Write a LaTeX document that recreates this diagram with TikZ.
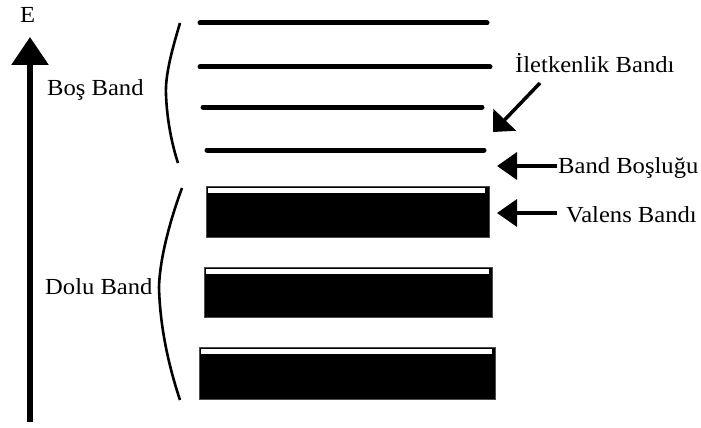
\documentclass[tikz,border=0pt]{standalone}
\usepackage{fontspec}
\setmainfont{Liberation Serif}
\usetikzlibrary{arrows.meta}
\newcommand{\lbltxt}[1]{\scalebox{1.07}[1]{#1}}
\begin{document}
\begin{tikzpicture}[x=1pt,y=-1pt,
  lbl/.style={anchor=base west,inner sep=0pt,font=\fontsize{23}{26}\selectfont},
  level/.style={line width=5pt,line cap=round},
  band/.style={fill=black,draw=black!70,line width=1pt},
  strip/.style={fill=white},
  brace/.style={line width=2.6pt},
  ptr/.style={line width=3.5pt,-{Triangle[length=20pt,width=27pt]}},
  dptr/.style={line width=3.5pt,-{Triangle[length=17pt,width=31pt]}}]
\useasboundingbox (0,0) rectangle (701,428);
% energy axis
\coordinate (axb) at (30,422);
\coordinate (axt) at (30,37);
\draw[line width=6pt,-{Triangle[length=28pt,width=36pt]}] (axb) -- (axt);
\node[lbl] (E) at (20,23) {\lbltxt{E}};
% labels left
\node[lbl] (bos) at (47,95) {\lbltxt{Boş Band}};
\node[lbl] (dolu) at (45,294) {\lbltxt{Dolu Band}};
% braces
\draw[brace] (180,23) .. controls (172,50) and (165,75) .. (166,95) .. controls (167,120) and (172,145) .. (178,163);
\draw[brace] (182,188) .. controls (172,215) and (160,255) .. (159,287) .. controls (160,330) and (170,370) .. (180,400);
% empty levels
\draw[level] (200,23) -- (487,23);
\draw[level] (200,67) -- (490,67);
\draw[level] (203,107) -- (482,107);
\draw[level] (207,150) -- (484,150);
% filled bands
\draw[band] (206,186) rectangle (489,237);
\fill[strip] (207.5,188) rectangle (485,193);
\draw[band] (204,267) rectangle (492,317);
\fill[strip] (205.5,269) rectangle (489,274);
\draw[band] (199,347) rectangle (495,399);
\fill[strip] (200.5,349) rectangle (492,354);
% right labels and arrows
\node[lbl] (ilet) at (515,73) {\lbltxt{İletkenlik Bandı}};
\node[lbl] (gap) at (558,173) {\lbltxt{Band Boşluğu}};
\node[lbl] (val) at (566,222) {\lbltxt{Valens Bandı}};
\coordinate (iletstart) at (540,83);
\coordinate (ilettip) at (493,132);
\coordinate (gapstart) at (557,166);
\coordinate (gaptip) at (497,166);
\coordinate (valstart) at (557,213);
\coordinate (valtip) at (497,213);
\draw[dptr] (iletstart) -- (ilettip);
\draw[ptr] (gapstart) -- (gaptip);
\draw[ptr] (valstart) -- (valtip);
\end{tikzpicture}
\end{document}
